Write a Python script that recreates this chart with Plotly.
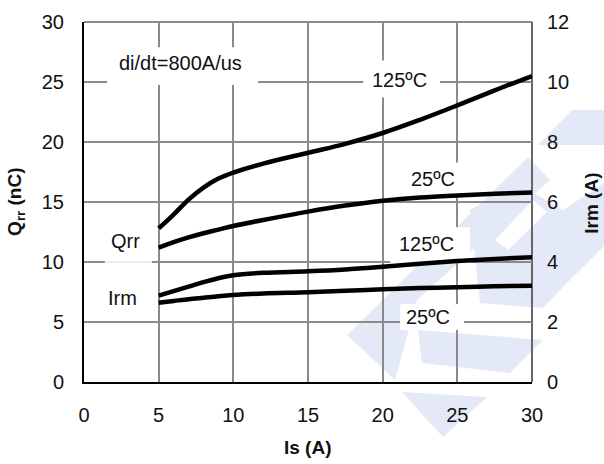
import plotly.graph_objects as go

# Source current Is (A)
is_amps = [5, 6, 7, 8, 9, 10, 12, 15, 17.5, 20, 22.5, 25, 27.5, 30]

# Reverse recovery charge Qrr (nC)
qrr_125c = [12.8, 13.95, 15.2, 16.2, 16.95, 17.45, 18.2, 19.1, 19.85, 20.75, 21.85, 23.05, 24.3, 25.5]
qrr_25c = [11.2, 11.65, 12.05, 12.4, 12.7, 13.0, 13.5, 14.2, 14.7, 15.1, 15.38, 15.55, 15.68, 15.8]

# Peak reverse recovery current Irm (A)
irm_125c = [2.88, 3.03, 3.18, 3.33, 3.46, 3.56, 3.64, 3.69, 3.75, 3.84, 3.94, 4.03, 4.10, 4.16]
irm_25c = [2.64, 2.70, 2.76, 2.81, 2.86, 2.90, 2.95, 2.99, 3.04, 3.09, 3.13, 3.16, 3.19, 3.21]

x_ticks = [0, 5, 10, 15, 20, 25, 30]
qrr_ticks = [0, 5, 10, 15, 20, 25, 30]
irm_ticks = [0, 2, 4, 6, 8, 10, 12]

FONT = "Liberation Sans, Arial, sans-serif"
GRID = "#8a8a8a"
W, H = 604, 464
ML, MR, MT, MB = 84, 72, 22, 82
PW, PH = W - ML - MR, H - MT - MB


def to_paper(pts):
    """Canvas pixel points -> paper coordinates."""
    return [((px - ML) / PW, (H - MB - py) / PH) for px, py in pts]


def poly_path(pts):
    p = to_paper(pts)
    return "M " + " L ".join(f"{x:.4f},{y:.4f}" for x, y in p) + " Z"


fig = go.Figure()

line_style = dict(color="black", width=4.5, shape="spline", smoothing=1.0)
fig.add_trace(go.Scatter(x=is_amps, y=qrr_125c, mode="lines", line=line_style,
                         yaxis="y", showlegend=False))
fig.add_trace(go.Scatter(x=is_amps, y=qrr_25c, mode="lines", line=line_style,
                         yaxis="y", showlegend=False))
fig.add_trace(go.Scatter(x=is_amps, y=irm_125c, mode="lines", line=line_style,
                         yaxis="y2", showlegend=False))
fig.add_trace(go.Scatter(x=is_amps, y=irm_25c, mode="lines", line=line_style,
                         yaxis="y2", showlegend=False))

shapes = []

# faint logo in the background
logo_blue = "#e3e9f6"
logo_parts = [
    [(538, 145), (572, 110), (610, 110), (610, 145)],
    [(347, 335), (528, 157), (550, 180), (417, 300), (395, 380)],
    [(470, 210), (517, 183), (563, 210), (604, 183), (610, 240),
     (563, 287), (543, 308), (480, 303)],
    [(418, 330), (543, 340), (510, 373), (422, 363)],
    [(402, 392), (487, 397), (443, 437)],
]
for part in logo_parts:
    shapes.append(dict(type="path", path=poly_path(part), xref="paper", yref="paper",
                       fillcolor=logo_blue, line=dict(width=0), layer="below"))
shapes.append(dict(type="path", path=poly_path([(495, 240), (533, 200), (547, 212), (508, 250)]),
                   xref="paper", yref="paper", fillcolor="white", line=dict(width=0),
                   layer="below"))

# white boxes behind the curve labels (x in A, y in nC)
label_boxes = [
    (1.54, 11.65, 24.75, 27.9),
    (18.7, 23.85, 23.7, 26.8),
    (20.8, 25.85, 15.6, 18.3),
    (20.5, 25.85, 9.9, 12.9),
    (21.17, 25.45, 4.33, 6.5),
    (1.4, 4.55, 5.33, 14.75),
]
for x0, x1, y0, y1 in label_boxes:
    shapes.append(dict(type="rect", xref="x", yref="y", x0=x0, x1=x1, y0=y0, y1=y1,
                       fillcolor="white", line=dict(width=0), layer="between"))
shapes.append(dict(type="line", xref="x", yref="y", x0=1.4, x1=4.55, y0=10, y1=10,
                   line=dict(color="#dcdcdc", width=1), layer="between"))

# top and right frame
shapes.append(dict(type="line", xref="paper", yref="paper", x0=0, x1=1, y0=1, y1=1,
                   line=dict(color=GRID, width=2), layer="between"))
shapes.append(dict(type="line", xref="paper", yref="paper", x0=1, x1=1, y0=0, y1=1,
                   line=dict(color="#666666", width=2), layer="between"))

txt = dict(family=FONT, size=20, color="#111111")
annotations = [
    dict(x=6.45, y=26.6, text="di/dt=800A/us"),
    dict(x=21.15, y=25.2, text="125ºC"),
    dict(x=23.4, y=16.9, text="25ºC"),
    dict(x=22.95, y=11.5, text="125ºC"),
    dict(x=23.05, y=5.42, text="25ºC"),
    dict(x=2.8, y=11.75, text="Qrr"),
    dict(x=2.55, y=7.0, text="Irm"),
]
for a in annotations:
    a.update(xref="x", yref="y", showarrow=False, xanchor="center", yanchor="middle",
             font=txt)

title_font = dict(family=FONT, size=19, color="#111111")
annotations += [
    dict(x=0.5, y=-0.183, xref="paper", yref="paper", text="<b>Is (A)</b>",
         showarrow=False, xanchor="center", yanchor="middle", font=title_font),
    dict(x=-0.152, y=0.5, xref="paper", yref="paper", text="<b>Q<sub>rr</sub> (nC)</b>",
         showarrow=False, xanchor="center", yanchor="middle", textangle=-90, font=title_font),
    dict(x=1.131, y=0.497, xref="paper", yref="paper", text="<b>Irm (A)</b>",
         showarrow=False, xanchor="center", yanchor="middle", textangle=-90, font=title_font),
]

fig.update_layout(
    width=W, height=H,
    margin=dict(l=ML, r=MR, t=MT, b=MB, pad=0),
    paper_bgcolor="white",
    plot_bgcolor="rgba(0,0,0,0)",
    font=txt,
    shapes=shapes,
    annotations=annotations,
    xaxis=dict(range=[0, 30], tickvals=x_ticks, showgrid=True, gridcolor=GRID, gridwidth=2,
               zeroline=False, showline=True, linecolor="black", linewidth=2,
               ticks="", ticklabelstandoff=14, tickfont=txt, fixedrange=True),
    yaxis=dict(range=[0, 30], tickvals=qrr_ticks, showgrid=True, gridcolor=GRID, gridwidth=2,
               zeroline=False, showline=True, linecolor="black", linewidth=2,
               ticks="", ticklabelstandoff=14, tickfont=txt, fixedrange=True),
    yaxis2=dict(range=[0, 12], tickvals=irm_ticks, overlaying="y", side="right",
                showgrid=False, zeroline=False, showline=False,
                ticks="", ticklabelstandoff=14, tickfont=txt, fixedrange=True),
)

fig.write_html("out.html")
